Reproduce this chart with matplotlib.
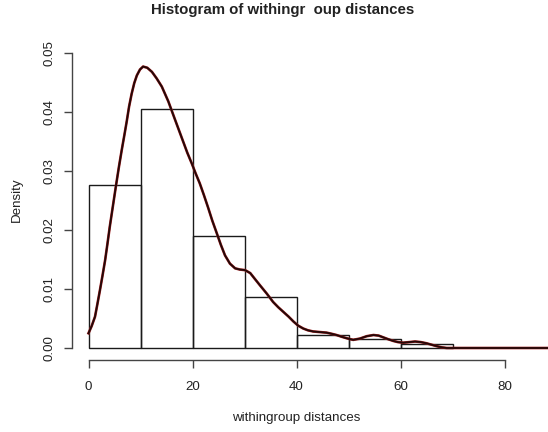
import matplotlib
matplotlib.use("Agg")
import matplotlib.pyplot as plt

plt.rcParams['font.family'] = ['Liberation Sans', 'DejaVu Sans']

# Histogram data
bin_edges = [0, 10, 20, 30, 40, 50, 60, 70]
densities = [0.0276, 0.0405, 0.0190, 0.0086, 0.00215, 0.00147, 0.00073]

# Kernel density curve
kde_x = [0.0, 0.6, 1.25, 1.7, 2.2, 2.7, 3.2, 3.65, 4.1, 4.7, 5.3, 5.85, 6.4, 6.9,
         7.35, 7.8, 8.3, 8.8, 9.3, 9.9, 10.5, 11.3, 12.2, 13.1, 14.1, 15.35,
         16.6, 17.4, 18.2, 19.0, 19.85, 20.6, 21.4, 22.2, 23.0, 23.8, 24.65,
         25.45, 26.25, 27.2, 28.2, 29.1, 30.1, 31.1, 32.0, 33.0, 34.3, 35.5,
         36.5, 37.5, 38.5, 39.4, 40.3, 41.3, 42.2, 43.2, 44.5, 45.8, 46.8, 47.7,
         48.7, 49.7, 50.9, 52.2, 53.5, 54.8, 55.8, 56.7, 57.6, 58.6, 59.5, 60.5,
         61.7, 62.8, 63.9, 65.0, 66.0, 67.0, 68.0, 68.9, 70.0, 75.0, 80.0, 85.0,
         90.0]
kde_y = [0.0025, 0.0037, 0.0053, 0.0074, 0.0098, 0.0123, 0.0149, 0.0177, 0.0206,
         0.0241, 0.0276, 0.0307, 0.0336, 0.0361, 0.0384, 0.0409, 0.0431, 0.0449,
         0.0462, 0.0472, 0.0477, 0.0475, 0.0468, 0.0457, 0.0443, 0.0418, 0.0388,
         0.0369, 0.0350, 0.0331, 0.0313, 0.0296, 0.0279, 0.0259, 0.0238, 0.0216,
         0.0195, 0.0175, 0.0157, 0.0143, 0.0135, 0.0133, 0.0132, 0.0127, 0.0117,
         0.0106, 0.0092, 0.0078, 0.0069, 0.0061, 0.0053, 0.0045, 0.0038, 0.0033,
         0.0030, 0.0028, 0.0027, 0.0026, 0.0024, 0.0022, 0.0019, 0.00164, 0.00138,
         0.0016, 0.0020, 0.0022, 0.0021, 0.0018, 0.0015, 0.0012, 0.0010, 0.0009,
         0.0010, 0.0011, 0.0010, 0.0008, 0.00055, 0.0003, 0.0001, 0.0, 0.0, 0.0,
         0.0, 0.0, 0.0]

x_ticks = [0, 20, 40, 60, 80]
y_ticks = [0.00, 0.01, 0.02, 0.03, 0.04, 0.05]
y_tick_labels = ["0.00", "0.01", "0.02", "0.03", "0.04", "0.05"]

W, H = 548, 432
fig = plt.figure(figsize=(W / 100, H / 100), dpi=100)

left_px, right_px = 72.3, 548
top_px, bot_px = 41.2, 359.8
ax = fig.add_axes([left_px / W, 1 - bot_px / H, (right_px - left_px) / W, (bot_px - top_px) / H])

x0_px, px_per_unit = 88.5, 5.2
ax.set_xlim((left_px - x0_px) / px_per_unit, (right_px - x0_px) / px_per_unit)
ax.set_ylim(-0.002, 0.052)

txt = '#222222'
axc = '#444444'

widths = [bin_edges[i + 1] - bin_edges[i] for i in range(len(densities))]
ax.bar(bin_edges[:-1], densities, width=widths, align='edge', facecolor='none',
       edgecolor='#1a1a1a', linewidth=1.0)

ax.plot(kde_x, kde_y, color='#a02020', linewidth=1.9, solid_joinstyle='round')
ax.plot(kde_x, kde_y, color='#220808', linewidth=1.3, solid_joinstyle='round')

for s in ['top', 'right']:
    ax.spines[s].set_visible(False)
ax.spines['left'].set_bounds(0, 0.05)
ax.spines['bottom'].set_bounds(0, 80)
for s in ['left', 'bottom']:
    ax.spines[s].set_color(axc)
    ax.spines[s].set_linewidth(1.0)

ax.set_xticks(x_ticks)
ax.set_xticklabels([str(t) for t in x_ticks])
ax.set_yticks(y_ticks)
ax.set_yticklabels(y_tick_labels, rotation=90, va='center')
ax.tick_params(axis='both', length=6, width=1.0, color=axc, labelcolor=txt,
               labelsize=9.6)
ax.tick_params(axis='x', pad=9.5)
ax.tick_params(axis='y', pad=6.3)

fig.text(282.5 / W, 1 - 10 / H, "Histogram of withingr  oup distances",
         ha='center', va='center', fontsize=10.8, fontweight='bold', color=txt)
fig.text(296 / W, 1 - 418 / H, "withingroup distances", ha='center', va='center',
         fontsize=9.6, color=txt)
fig.text(16.7 / W, 1 - 200 / H, "Density", ha='center', va='center', rotation=90,
         fontsize=9.6, color=txt)

fig.savefig("out.png", dpi=100)
